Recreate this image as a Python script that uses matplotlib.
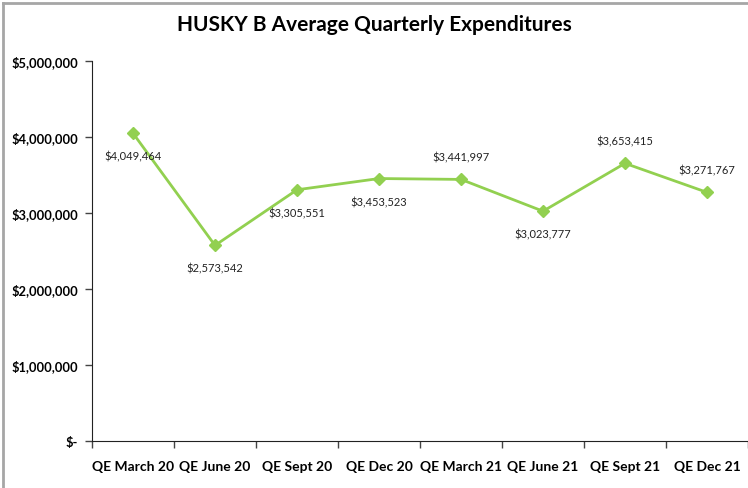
import matplotlib
matplotlib.use("Agg")
import matplotlib.pyplot as plt
from matplotlib.lines import Line2D
from matplotlib.ticker import FuncFormatter, FixedLocator

# Dados
quarters = ["QE March 20", "QE June 20", "QE Sept 20", "QE Dec 20",
            "QE March 21", "QE June 21", "QE Sept 21", "QE Dec 21"]
expenditures = [4049464, 2573542, 3305551, 3453523,
                3441997, 3023777, 3653415, 3271767]
label_side = ["below", "below", "below", "below",
              "above", "below", "above", "above"]


def money(v, pos=None):
    if v == 0:
        return "$-"
    return "${:,.0f}".format(v)


def main():
    plt.rcParams['font.family'] = ['Lato', 'DejaVu Sans']

    fig = plt.figure(figsize=(7.48, 4.89), dpi=100)
    ax = fig.add_axes([92 / 748, 47 / 489, 656 / 748, 380 / 489])

    x = list(range(len(quarters)))
    green = "#92D050"
    ax.plot(x, expenditures, color=green, lw=2, marker="D", ms=6.5,
            markeredgecolor=green, markerfacecolor=green, zorder=3)

    for xi, v, side in zip(x, expenditures, label_side):
        dy = -16.5 if side == "below" else 16.5
        ax.annotate(money(v), (xi, v), xytext=(0, dy), textcoords="offset points",
                    ha="center", va="center", fontsize=8, color="#222222")

    ax.set_xlim(-0.5, len(quarters) - 0.5)
    ax.set_ylim(0, 5000000)
    ax.set_yticks(range(0, 5000001, 1000000))
    ax.yaxis.set_major_formatter(FuncFormatter(money))

    ax.set_xticks(x)
    ax.set_xticklabels(quarters)
    ax.xaxis.set_minor_locator(FixedLocator([i - 0.5 for i in range(len(quarters) + 1)]))
    ax.tick_params(axis="x", which="major", length=0, pad=14)
    ax.tick_params(axis="x", which="minor", length=5, width=1, color="#444444")
    ax.tick_params(axis="y", length=5, width=1, color="#444444", pad=5)

    for lbl in ax.get_xticklabels():
        lbl.set_fontweight("bold")
        lbl.set_fontsize(10)
    for lbl in ax.get_yticklabels():
        lbl.set_fontweight("bold")
        lbl.set_fontsize(9.3)

    for side in ["top", "right"]:
        ax.spines[side].set_visible(False)
    ax.spines["left"].set_color("#222222")
    ax.spines["bottom"].set_color("#222222")

    fig.text(0.5, 1 - 25 / 489, "HUSKY B Average Quarterly Expenditures",
             ha="center", va="center", fontsize=15, fontweight="bold")

    # Moldura cinza (topo e esquerda)
    fig.add_artist(Line2D([3 / 748, 1], [1 - 4 / 489, 1 - 4 / 489],
                          transform=fig.transFigure, color="#a6a6a6", lw=2))
    fig.add_artist(Line2D([3 / 748, 3 / 748], [0, 1 - 4 / 489],
                          transform=fig.transFigure, color="#a6a6a6", lw=2))

    fig.savefig("out.png", dpi=100)


if __name__ == "__main__":
    main()
